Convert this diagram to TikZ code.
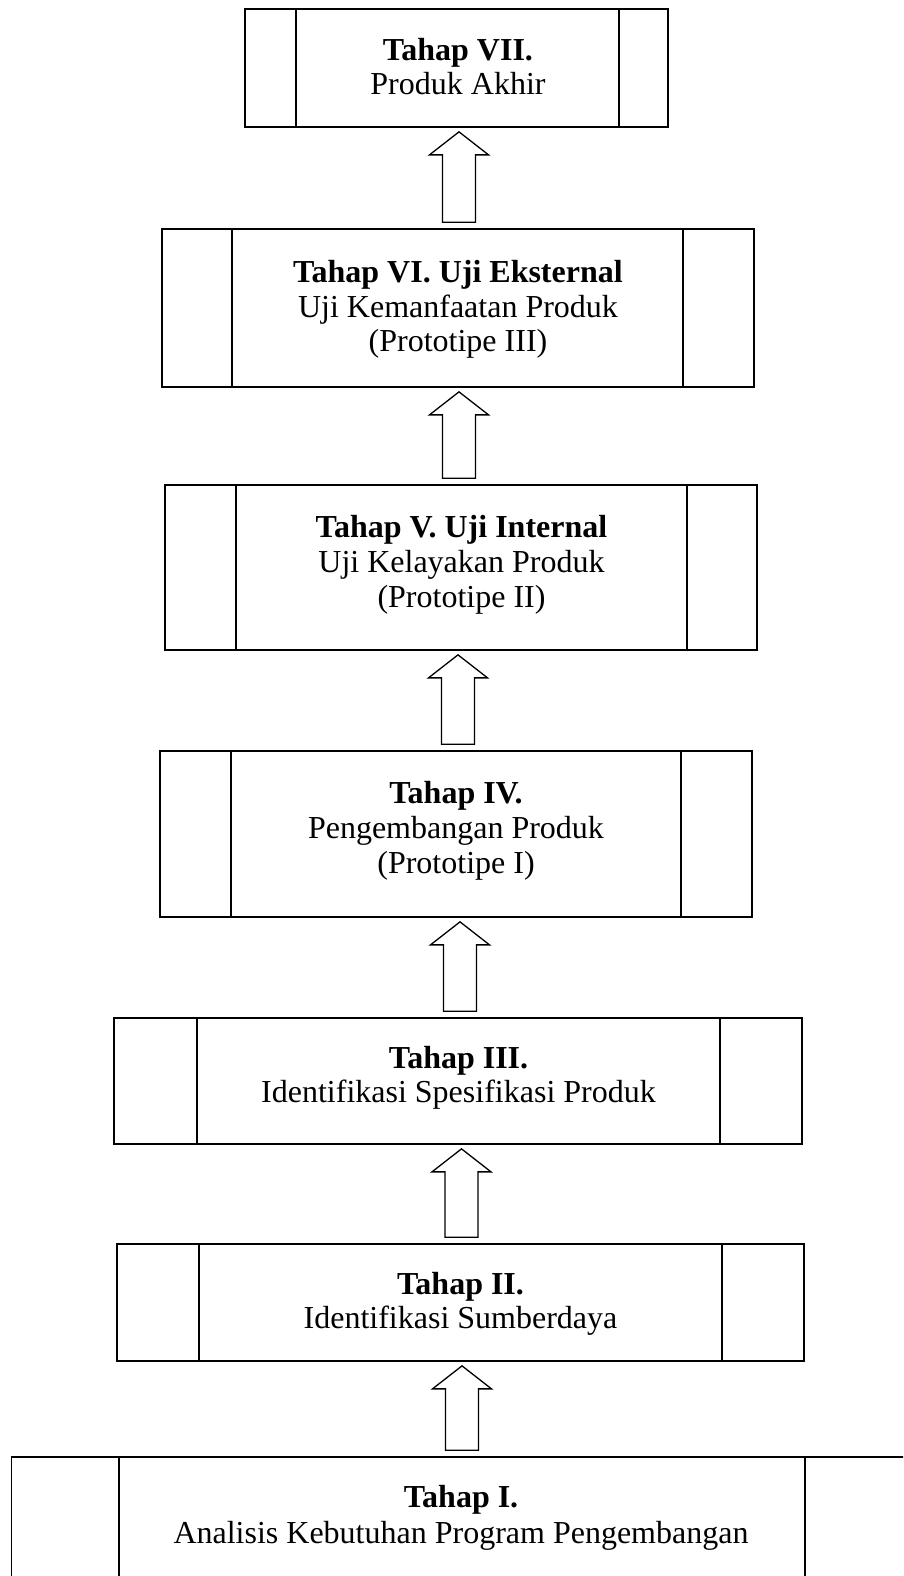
\documentclass[tikz,border=0pt]{standalone}
\usepackage{fontspec}
\setmainfont{Liberation Serif}
\usetikzlibrary{calc}
\tikzset{
  stagebox/.style={draw, line width=1.7pt, rectangle, inner sep=0pt},
  divider/.style={line width=1.7pt},
  blockarrow/.style={draw, line width=1.3pt, line join=miter},
  stagetext/.style={anchor=base, inner sep=0pt, font=\fontsize{32}{35}\selectfont},
  stagehead/.style={stagetext, font=\fontsize{32}{35}\selectfont\bfseries},
}
\newcommand\blockarrowup[3]{%
  \draw[blockarrow] let \p1=(#1.north), \p2=(#2.south) in
  (#3pt-16.5pt,\y1+6pt) -- (#3pt-16.5pt,\y2-27pt) -- (#3pt-29.5pt,\y2-27pt)
  -- (#3pt,\y2-4pt) -- (#3pt+29.5pt,\y2-27pt) -- (#3pt+16.5pt,\y2-27pt)
  -- (#3pt+16.5pt,\y1+6pt) -- cycle;}
\begin{document}
\begin{tikzpicture}[x=1pt,y=-1pt]
\useasboundingbox (0,0) rectangle (903,1576);
\clip (0,0) rectangle (903,1576);
\fill[white] (0,0) rectangle (903,1576);

% Boxes
\node[stagebox, minimum width=423pt, minimum height=118pt] (b7) at (456.5,68) {};
\node[stagebox, minimum width=592pt, minimum height=158pt] (b6) at (458,308) {};
\node[stagebox, minimum width=592pt, minimum height=165pt] (b5) at (461,567.5) {};
\node[stagebox, minimum width=592pt, minimum height=166pt] (b4) at (456,834) {};
\node[stagebox, minimum width=688pt, minimum height=126pt] (b3) at (458,1081) {};
\node[stagebox, minimum width=687pt, minimum height=117pt] (b2) at (460.5,1302.5) {};
\node[stagebox, minimum width=928.5pt, minimum height=143pt] (b1) at (475.75,1528.5) {};

% Inner dividers
\draw[divider] ([xshift=52pt]b7.north west) -- ([xshift=52pt]b7.south west);
\draw[divider] ([xshift=-50pt]b7.north east) -- ([xshift=-50pt]b7.south east);
\draw[divider] ([xshift=71pt]b6.north west) -- ([xshift=71pt]b6.south west);
\draw[divider] ([xshift=-72pt]b6.north east) -- ([xshift=-72pt]b6.south east);
\draw[divider] ([xshift=72pt]b5.north west) -- ([xshift=72pt]b5.south west);
\draw[divider] ([xshift=-71pt]b5.north east) -- ([xshift=-71pt]b5.south east);
\draw[divider] ([xshift=72pt]b4.north west) -- ([xshift=72pt]b4.south west);
\draw[divider] ([xshift=-72pt]b4.north east) -- ([xshift=-72pt]b4.south east);
\draw[divider] ([xshift=84pt]b3.north west) -- ([xshift=84pt]b3.south west);
\draw[divider] ([xshift=-83pt]b3.north east) -- ([xshift=-83pt]b3.south east);
\draw[divider] ([xshift=83pt]b2.north west) -- ([xshift=83pt]b2.south west);
\draw[divider] ([xshift=-83pt]b2.north east) -- ([xshift=-83pt]b2.south east);
\draw[divider] ([xshift=108.5pt]b1.north west) -- ([xshift=108.5pt]b1.south west);
\draw[divider] ([xshift=-136pt]b1.north east) -- ([xshift=-136pt]b1.south east);

% Texts
\node[stagehead] (t7a) at (458,61) {Tahap VII.};
\node[stagetext] (t7b) at (458,95) {Produk Akhir};

\node[stagehead] (t6a) at (458,282) {Tahap VI. Uji Eksternal};
\node[stagetext] (t6b) at (458,317) {Uji Kemanfaatan Produk};
\node[stagetext] (t6c) at (458,351) {(Prototipe III)};

\node[stagehead] (t5a) at (461.5,537) {Tahap V. Uji Internal};
\node[stagetext] (t5b) at (461.5,572) {Uji Kelayakan Produk};
\node[stagetext] (t5c) at (461.5,607) {(Prototipe II)};

\node[stagehead] (t4a) at (456,803) {Tahap IV.};
\node[stagetext] (t4b) at (456,838) {Pengembangan Produk};
\node[stagetext] (t4c) at (456,873) {(Prototipe I)};

\node[stagehead] (t3a) at (458.5,1068) {Tahap III.};
\node[stagetext] (t3b) at (458.5,1102) {Identifikasi Spesifikasi Produk};

\node[stagehead] (t2a) at (460.5,1294) {Tahap II.};
\node[stagetext] (t2b) at (460.5,1328) {Identifikasi Sumberdaya};

\node[stagehead] (t1a) at (461,1507) {Tahap I.};
\node[stagetext] (t1b) at (461,1543) {Analisis Kebutuhan Program Pengembangan};

% Block arrows
\blockarrowup{b6}{b7}{459}
\blockarrowup{b5}{b6}{459}
\blockarrowup{b4}{b5}{458}
\blockarrowup{b3}{b4}{460}
\blockarrowup{b2}{b3}{461.5}
\blockarrowup{b1}{b2}{462}
\end{tikzpicture}
\end{document}
